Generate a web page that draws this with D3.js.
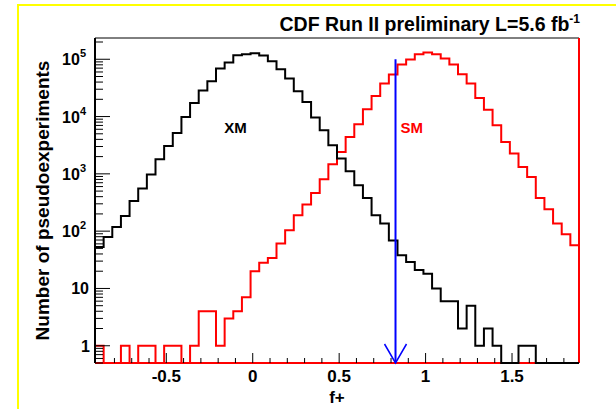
<!DOCTYPE html>
<html>
<head>
<meta charset="utf-8">
<script src="https://cdn.jsdelivr.net/npm/d3@7/dist/d3.min.js"></script>
<style>
  html, body { margin: 0; padding: 0; background: #fff; }
  svg { display: block; }
  text { font-family: "Liberation Sans", Arial, Helvetica, sans-serif; font-weight: bold; }
</style>
</head>
<body>
<svg id="chart" width="616" height="409"></svg>
<script>
// Histogram binning: 56 bins of width 0.05 starting at f+ = -0.9125
const binLow = -0.9125;
const binWidth = 0.05;

// Pseudoexperiment counts per bin, exotic-model (XM) hypothesis
const xmCounts = [
  53, 79, 118, 184, 337, 554, 972, 1798, 3069, 5176,
  9840, 17260, 28400, 41300, 68900, 87500, 117500, 122300, 127300, 116000,
  92300, 66900, 46000, 27650, 17990, 9610, 5770, 3155, 1850, 1110,
  632, 380, 189, 136, 69, 38, 29, 21, 18, 10,
  6, 6, 2, 5, 1, 2, 1, 0, 0, 1,
  1, 0, 0, 0, 0, 0
];

// Pseudoexperiment counts per bin, Standard Model (SM) hypothesis
const smCounts = [
  1, 0, 0, 1, 0, 1, 1, 0, 1, 1,
  0, 1, 4, 4, 1, 3, 4, 7, 20, 28,
  34, 61, 104, 189, 291, 464, 805, 1470, 2410, 4400,
  7340, 13400, 22900, 37700, 54100, 80900, 98900, 122300, 130900, 122300,
  102800, 80900, 54700, 37700, 21100, 13200, 7050, 3600, 2260, 1320,
  883, 380, 241, 136, 88, 57
];

// Observed value in data, and the height the arrow starts from
const observedF = 0.826;
const arrowTop = 1e5;

// Axis ticks
const xMajorTicks = [-0.5, 0, 0.5, 1, 1.5];
const xTickLabels = ["-0.5", "0", "0.5", "1", "1.5"];
const xMinorTicks = d3.range(-8, 19).map(i => i / 10);
const yDecades = [1, 10, 100, 1000, 10000, 100000];
const yDecadeExponents = [0, 1, 2, 3, 4, 5];

const curveLabels = [
  { text: "XM", f: -0.1, v: 6300, color: "#000" },
  { text: "SM", f: 0.92, v: 6300, color: "#ff0000" }
];

const svg = d3.select("#chart");

// Canvas frame
svg.append("rect")
  .attr("x", 18).attr("y", 5)
  .attr("width", 620).attr("height", 420)
  .attr("fill", "#fff")
  .attr("stroke", "#ffff00").attr("stroke-width", 2);

const plot = { left: 95, right: 579, top: 38, bottom: 363 };
const nBins = xmCounts.length;
const binHigh = binLow + nBins * binWidth;

const x = d3.scaleLinear().domain([binLow, binHigh]).range([plot.left, plot.right]);
const y = d3.scaleLog().domain([0.5, 2.35e5]).range([plot.bottom, plot.top]);

// Frame: top and left in black, bottom and right carry the red outline
svg.append("line").attr("x1", plot.left).attr("x2", plot.right)
  .attr("y1", plot.top).attr("y2", plot.top)
  .attr("stroke", "#000").attr("stroke-width", 1);
svg.append("line").attr("x1", plot.left).attr("x2", plot.right)
  .attr("y1", plot.bottom).attr("y2", plot.bottom)
  .attr("stroke", "#ff0000").attr("stroke-width", 2);
svg.append("line").attr("x1", plot.right).attr("x2", plot.right)
  .attr("y1", plot.top).attr("y2", plot.bottom)
  .attr("stroke", "#ff0000").attr("stroke-width", 2);

// Step outline of a histogram; empty bins sit on the lower edge
function histPath(counts) {
  const floor = y.domain()[0];
  const pts = [[binLow, floor]];
  counts.forEach((c, i) => {
    const v = Math.max(c, floor);
    pts.push([binLow + i * binWidth, v]);
    pts.push([binLow + (i + 1) * binWidth, v]);
  });
  pts.push([binHigh, floor]);
  return d3.line().x(d => x(d[0])).y(d => y(d[1]))(pts);
}

svg.append("path").attr("d", histPath(smCounts))
  .attr("fill", "none").attr("stroke", "#ff0000").attr("stroke-width", 2)
  .attr("stroke-linejoin", "miter");
svg.append("path").attr("d", histPath(xmCounts))
  .attr("fill", "none").attr("stroke", "#000").attr("stroke-width", 2)
  .attr("stroke-linejoin", "miter");

// X axis ticks (drawn inward)
const gx = svg.append("g");
gx.selectAll("line.minor").data(xMinorTicks).join("line")
  .attr("x1", d => x(d)).attr("x2", d => x(d))
  .attr("y1", plot.bottom).attr("y2", d => plot.bottom - (xMajorTicks.some(m => Math.abs(m - d) < 1e-9) ? 10 : 5))
  .attr("stroke", "#000").attr("stroke-width", 1);
gx.selectAll("text").data(xMajorTicks).join("text")
  .attr("x", d => x(d)).attr("y", 382)
  .attr("text-anchor", "middle")
  .attr("font-size", 17)
  .text((d, i) => xTickLabels[i]);

// Y axis: line, decade ticks, and 2..9 sub-ticks
const gy = svg.append("g");
gy.append("line").attr("x1", plot.left).attr("x2", plot.left)
  .attr("y1", plot.top).attr("y2", plot.bottom)
  .attr("stroke", "#000").attr("stroke-width", 2);
const minorY = [];
[0.1, 1, 10, 100, 1000, 10000, 100000].forEach(dec => {
  for (let k = 2; k <= 9; k++) {
    const v = dec * k;
    if (v >= y.domain()[0] && v <= y.domain()[1]) minorY.push(v);
  }
});
gy.selectAll("line.minor").data(minorY).join("line")
  .attr("x1", plot.left).attr("x2", plot.left + 8)
  .attr("y1", d => y(d)).attr("y2", d => y(d))
  .attr("stroke", "#000").attr("stroke-width", 1);
gy.selectAll("line.major").data(yDecades).join("line")
  .attr("x1", plot.left).attr("x2", plot.left + 15)
  .attr("y1", d => y(d)).attr("y2", d => y(d))
  .attr("stroke", "#000").attr("stroke-width", 1);

yDecades.forEach((v, i) => {
  const e = yDecadeExponents[i];
  const t = gy.append("text")
    .attr("y", y(v) + 6)
    .attr("text-anchor", "end")
    .attr("font-size", 16);
  if (e >= 2) {
    t.attr("x", 86);
    t.append("tspan").text("10");
    t.append("tspan").attr("font-size", 11).attr("dy", -8).text(String(e));
  } else {
    t.attr("x", e === 0 ? 90 : 89).text(e === 0 ? "1" : "10");
  }
});

// Axis titles
svg.append("text")
  .attr("transform", `translate(49, ${(plot.top + plot.bottom) / 2}) rotate(-90)`)
  .attr("text-anchor", "middle")
  .attr("font-size", 19)
  .text("Number of pseudoexperiments");
svg.append("text")
  .attr("x", (plot.left + plot.right) / 2).attr("y", 403)
  .attr("text-anchor", "middle")
  .attr("font-size", 17)
  .text("f+");

// Title
const title = svg.append("text")
  .attr("x", 580).attr("y", 31)
  .attr("text-anchor", "end")
  .attr("font-size", 19.5);
title.append("tspan").text("CDF Run II preliminary L=5.6 fb");
title.append("tspan").attr("font-size", 12).attr("dy", -8).text("-1");

// Curve labels
svg.selectAll("text.curve").data(curveLabels).join("text")
  .attr("x", d => x(d.f)).attr("y", d => y(d.v) + 5)
  .attr("text-anchor", "middle")
  .attr("font-size", 15)
  .attr("fill", d => d.color)
  .text(d => d.text);

// Observed value arrow
const ax = x(observedF);
const blue = "#0000ff";
svg.append("line")
  .attr("x1", ax).attr("x2", ax)
  .attr("y1", y(arrowTop)).attr("y2", plot.bottom)
  .attr("stroke", blue).attr("stroke-width", 2);
svg.append("path")
  .attr("d", `M${ax - 11},${plot.bottom - 19} L${ax},${plot.bottom} L${ax + 11},${plot.bottom - 19}`)
  .attr("fill", "none").attr("stroke", blue).attr("stroke-width", 1.5);
</script>
</body>
</html>
